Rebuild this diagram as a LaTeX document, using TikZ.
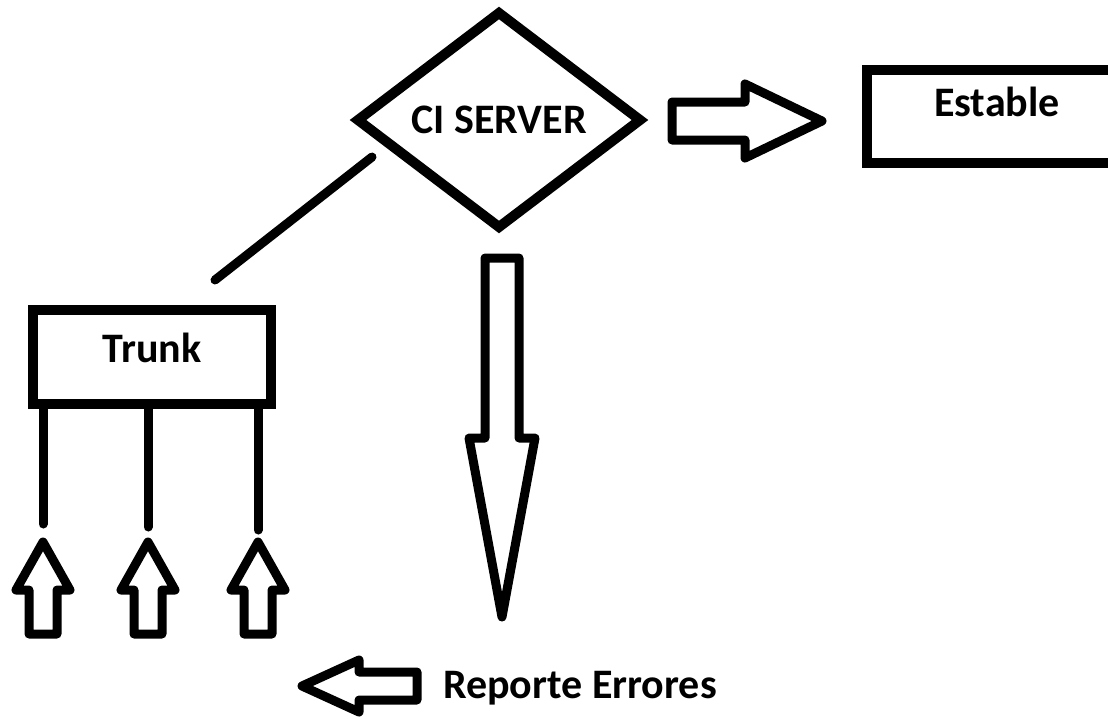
\documentclass[tikz,border=0pt]{standalone}
\usepackage{fontspec}
\setmainfont{Carlito}
\usetikzlibrary{shapes.geometric, positioning}

\tikzset{
  box/.style={draw, rectangle, line width=10pt, outer sep=0pt, inner sep=0pt},
  server/.style={draw, diamond, aspect=1.32, line width=10pt, outer sep=0pt, inner sep=0pt, font=\bfseries\fontsize{42}{42}\selectfont},
  txt/.style={font=\bfseries\fontsize{42}{42}\selectfont},
  link/.style={line width=9pt, line cap=round},
  pics/blockarrow/.style args={#1/#2/#3/#4}{code={
    \draw[line width=9pt, line join=round]
      (0,-#3) -- (#1-#2,-#3) -- (#1-#2,-#4) -- (#1,0) -- (#1-#2,#4) -- (#1-#2,#3) -- (0,#3) -- cycle;
  }}
}

\begin{document}
\begin{tikzpicture}[x=1pt,y=-1pt]
\useasboundingbox (0,0) rectangle (1108,718);
\clip (0,0) rectangle (1108,718);

\node[server, minimum width=282pt, minimum height=214pt] (ci) at (499,120) {CI SERVER};
\node[box, minimum width=238pt, minimum height=94pt, label={[txt, yshift=9pt]center:Trunk}] (trunk) at (152,357) {};
\node[box, minimum width=260pt, minimum height=93pt, label={[txt, yshift=14.5pt]center:Estable}] (estable) at (997,116.5) {};
\node[txt] (reporte) at (580,688) {Reporte Errores};

\coordinate (ciFoot) at (372,157);
\coordinate (trunkTop) at (215,280);
\draw[link] (ciFoot) -- (trunkTop);

% commits into trunk
\foreach \x/\y in {43/524, 148/527, 258/530} {
  \draw[link] (trunk.south -| \x,0) -- (\x,\y);
  \pic[rotate=90] at (\x,634) {blockarrow=92/48/14/27};
}

\pic at (672,121) {blockarrow=150/77/19/37};
\pic[rotate=-90] at (502,258) {blockarrow=359/179/17/33};
\pic[rotate=180] at (417,686) {blockarrow=115/57/14/26};
\end{tikzpicture}
\end{document}
